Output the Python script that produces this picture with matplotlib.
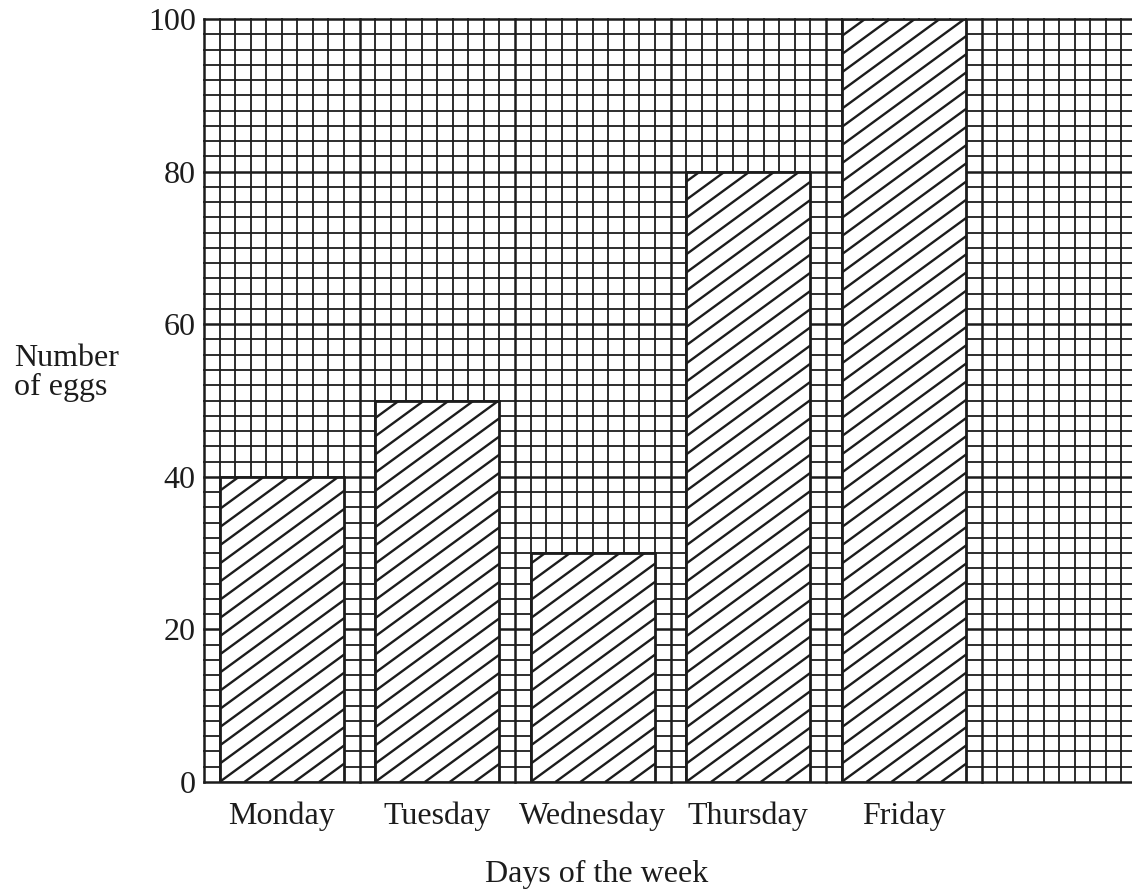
import numpy as np
import matplotlib
matplotlib.use("Agg")
import matplotlib.pyplot as plt
from matplotlib.collections import LineCollection

plt.rcParams['font.family'] = ['Liberation Serif', 'DejaVu Serif']

days = ['Monday', 'Tuesday', 'Wednesday', 'Thursday', 'Friday']
eggs = [40, 50, 30, 80, 100]
y_ticks = [0, 20, 40, 60, 80, 100]

ink = '#1c1c1c'
fs = 23

fig = plt.figure(figsize=(11.32, 8.92), dpi=100)
# graph paper runs off the right edge of the page
ax = fig.add_axes([204 / 1132, 1 - 782 / 892, 933 / 1132, 763 / 892])
ax.set_xlim(0, 60)
ax.set_ylim(0, 100)

# squared paper: small squares, slightly heavier line every 10 squares
for gx in np.arange(0, 61):
    ax.axvline(gx, color=ink, lw=1.8 if gx % 10 == 0 else 1.3, zorder=0, clip_on=False)
for gy in np.arange(0, 101, 2):
    ax.axhline(gy, color=ink, lw=1.8 if gy % 20 == 0 else 1.3, zorder=0, clip_on=False)

centers = np.arange(len(days)) * 10 + 5
bars = ax.bar(centers, eggs, width=8, color='white', edgecolor=ink,
              linewidth=2.0, zorder=2)

# hand-drawn style diagonal shading, clipped to each bar
slope, step = 1.49, 1.6
for b in bars:
    x0, y0 = b.get_x(), b.get_y()
    w, h = b.get_width(), b.get_height()
    run = h / slope
    k = np.arange(-int(np.ceil(run / step)) - 1, int(np.ceil(w / step)) + 1)
    starts = x0 + k * step
    segs = [[(s, y0), (s + run, y0 + h)] for s in starts]
    lc = LineCollection(segs, colors=ink, linewidths=1.7, zorder=3)
    ax.add_collection(lc)
    lc.set_clip_path(b)

for sp in ax.spines.values():
    sp.set_visible(False)

ax.set_xticks(centers)
ax.set_xticklabels(days, fontsize=fs, color=ink)
ax.set_yticks(y_ticks)
ax.set_yticklabels([str(v) for v in y_ticks], fontsize=fs, color=ink)
ax.tick_params(axis='x', length=0, pad=14)
ax.tick_params(axis='y', length=0, pad=6)

fig.text(14 / 1132, 1 - 366 / 892, 'Number', fontsize=fs, color=ink,
         ha='left', va='baseline')
fig.text(14 / 1132, 1 - 395 / 892, 'of eggs', fontsize=fs, color=ink,
         ha='left', va='baseline')
fig.text(597 / 1132, 1 - 882 / 892, 'Days of the week', fontsize=fs, color=ink,
         ha='center', va='baseline')

fig.savefig('out.png', dpi=100)
